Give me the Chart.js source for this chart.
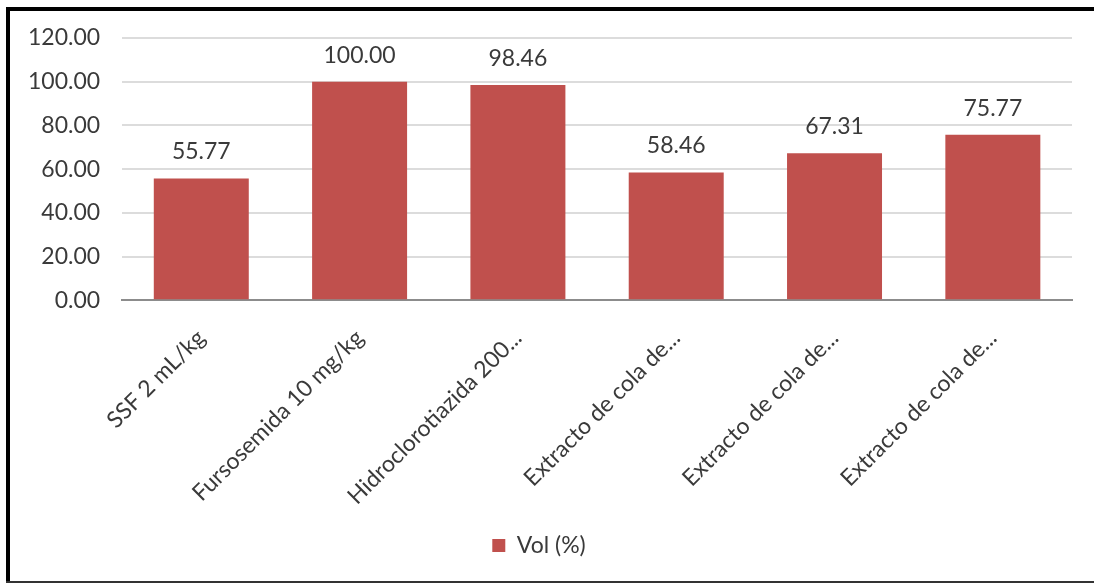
<!DOCTYPE html>
<html>
<head>
<meta charset="utf-8">
<script src="https://cdn.jsdelivr.net/npm/chart.js@4"></script>
<style>
  html, body { margin: 0; padding: 0; background: #fff; }
  #wrap { width: 1094px; height: 583px; position: relative; }
</style>
</head>
<body>
<div id="wrap"><canvas id="canvas"></canvas></div>
<script>
const categories = ['SSF 2 mL/kg', 'Fursosemida 10 mg/kg', 'Hidroclorotiazida 200...', 'Extracto de cola de...', 'Extracto de cola de...', 'Extracto de cola de...'];
const volValues = [55.77, 100.00, 98.46, 58.46, 67.31, 75.77];
const yTicks = [0, 20, 40, 60, 80, 100, 120];

const FONT = 'Lato, "Open Sans", sans-serif';
const TEXT = '#3a3a3a';

// value labels above each bar
const barLabels = {
  id: 'barLabels',
  afterDatasetsDraw(chart) {
    const ctx = chart.ctx;
    const meta = chart.getDatasetMeta(0);
    ctx.save();
    ctx.font = '23px ' + FONT;
    ctx.fillStyle = TEXT;
    ctx.textAlign = 'center';
    ctx.textBaseline = 'bottom';
    meta.data.forEach((bar, i) => {
      ctx.fillText(chart.data.datasets[0].data[i].toFixed(2), bar.x, bar.y - 15);
    });
    ctx.restore();
  }
};

// frame around the chart
const frame = {
  id: 'frame',
  afterDraw(chart) {
    const ctx = chart.ctx;
    ctx.save();
    ctx.fillStyle = '#000';
    ctx.fillRect(6, 7, 1088, 4);
    ctx.fillRect(6, 7, 4, 576);
    ctx.fillStyle = '#333';
    ctx.fillRect(6, 581, 1088, 2);
    ctx.restore();
  }
};

const ctx = document.getElementById('canvas').getContext('2d');
const myChart = new Chart(ctx, {
  type: 'bar',
  data: {
    labels: categories,
    datasets: [{
      label: 'Vol (%)',
      data: volValues,
      backgroundColor: '#c0504d',
      barPercentage: 0.6,
      categoryPercentage: 1.0
    }]
  },
  options: {
    responsive: true,
    maintainAspectRatio: false,
    animation: false,
    layout: {
      padding: { left: 6, right: 22, top: 38, bottom: 16 }
    },
    plugins: {
      legend: {
        position: 'bottom',
        labels: {
          font: { family: FONT, size: 23 },
          color: TEXT,
          boxWidth: 13,
          boxHeight: 13,
          padding: 10
        }
      },
      tooltip: { enabled: false }
    },
    scales: {
      y: {
        min: 0,
        max: 120,
        afterBuildTicks(scale) {
          scale.ticks = yTicks.map(v => ({ value: v }));
        },
        ticks: {
          font: { family: FONT, size: 23 },
          color: TEXT,
          padding: 22,
          callback: v => Number(v).toFixed(2)
        },
        grid: {
          color: '#dcdcdc',
          lineWidth: 2,
          drawTicks: false
        },
        border: { display: false }
      },
      x: {
        ticks: {
          font: { family: FONT, size: 23 },
          color: TEXT,
          maxRotation: 45,
          minRotation: 45,
          padding: 16,
          autoSkip: false
        },
        afterFit(scale) {
          scale.height -= 2;
        },
        grid: { display: false },
        border: { color: '#8c8c8c', width: 2 }
      }
    }
  },
  plugins: [barLabels, frame]
});
</script>
</body>
</html>
